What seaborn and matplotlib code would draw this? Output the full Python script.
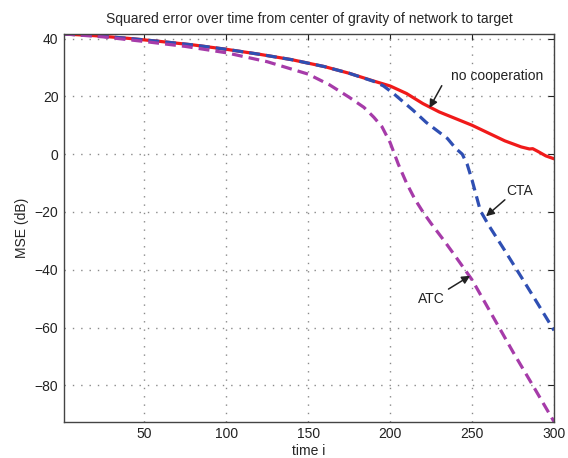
import numpy as np
import pandas as pd
import matplotlib
matplotlib.use("Agg")
import matplotlib.pyplot as plt
import seaborn as sns

# values
t_nocoop = [1, 20, 40, 60, 80, 100, 120, 140, 160, 175, 190, 200, 210, 220, 230,
            240, 250, 260, 270, 280, 285, 287, 290, 295, 300]
mse_nocoop = [41.6, 41.0, 40.1, 39.0, 37.8, 36.3, 34.6, 32.7, 30.3, 28.0, 25.3, 23.6,
              21.0, 17.5, 14.6, 12.3, 10.0, 7.3, 4.6, 2.5, 1.8, 1.9, 1.0, -0.6, -1.6]

t_cta = [1, 20, 40, 60, 80, 100, 120, 140, 160, 175, 190, 196, 202, 214, 222, 235,
         240, 244, 247, 250, 255, 260, 270, 280, 290, 300]
mse_cta = [41.6, 41.0, 40.1, 39.0, 37.8, 36.3, 34.6, 32.7, 30.3, 28.0, 25.2, 23.6,
           21.0, 15.2, 11.0, 5.4, 2.0, 0.0, -3.5, -9.0, -19.5, -24.5, -33.4,
           -42.5, -51.7, -61.0]

t_atc = [1, 25, 50, 75, 100, 125, 150, 163, 175, 184, 190, 195, 200, 205, 210, 215,
         220, 225, 233, 240, 250, 261, 275, 287, 300]
mse_atc = [41.6, 40.6, 39.0, 37.3, 35.1, 32.0, 27.7, 24.0, 19.7, 16.2, 12.8, 9.5,
           4.0, -3.5, -10.0, -15.5, -20.0, -24.0, -30.0, -35.5, -43.5, -54.5,
           -68.5, -80.0, -92.6]

xticks = [50, 100, 150, 200, 250, 300]
yticks = [-80, -60, -40, -20, 0, 20, 40]

sns.set_style("white")
plt.rcParams['font.family'] = ['Liberation Sans', 'DejaVu Sans']
fs = 10

fig = plt.figure(figsize=(5.68, 4.58), dpi=100)
ax = fig.add_axes([0.1127, 0.0793, 0.8627, 0.8465])

df_nc = pd.DataFrame({'t': t_nocoop, 'mse': mse_nocoop})
df_cta = pd.DataFrame({'t': t_cta, 'mse': mse_cta})
df_atc = pd.DataFrame({'t': t_atc, 'mse': mse_atc})

dash = (0, (3.4, 1.9))
sns.lineplot(data=df_nc, x='t', y='mse', ax=ax, color='#f01a1a', lw=2.3)
sns.lineplot(data=df_cta, x='t', y='mse', ax=ax, color='#2f4fb3', lw=2.3, linestyle=dash)
sns.lineplot(data=df_atc, x='t', y='mse', ax=ax, color='#a63ba9', lw=2.3, linestyle=dash)

ax.set_xlim(1, 300)
ax.set_ylim(-92.6, 41.6)
ax.set_xticks(xticks)
ax.set_yticks(yticks)
ax.grid(True, linestyle=(0, (1, 5)), color='#8a8a8a', lw=1.0)
ax.tick_params(direction='in', length=4, width=0.8, top=True, right=True,
               labelsize=fs, colors='#222222', pad=4)
for s in ax.spines.values():
    s.set_visible(True)
    s.set_color('#444444')
    s.set_linewidth(1.0)

ax.set_xlabel('time i', fontsize=fs, labelpad=2)
ax.set_ylabel('MSE (dB)', fontsize=fs, labelpad=4)
ax.set_title('Squared error over time from center of gravity of network to target',
             fontsize=fs, pad=8)

# annotations
arr = dict(arrowstyle='-|>', color='#222222', lw=1.1, mutation_scale=12, shrinkA=0, shrinkB=0)
ax.annotate('', xy=(224, 16.0), xytext=(231.5, 23.7), arrowprops=arr)
ax.text(265, 27.1, 'no cooperation', fontsize=fs, ha='center', va='center', color='#222222')
ax.annotate('', xy=(258.5, -21.5), xytext=(270, -15.8), arrowprops=arr)
ax.text(279, -12.7, 'CTA', fontsize=fs, ha='center', va='center', color='#222222')
ax.annotate('', xy=(248.8, -42.1), xytext=(235.6, -46.7), arrowprops=arr)
ax.text(225.4, -50, 'ATC', fontsize=fs, ha='center', va='center', color='#222222')

fig.savefig('out.png', dpi=100)
